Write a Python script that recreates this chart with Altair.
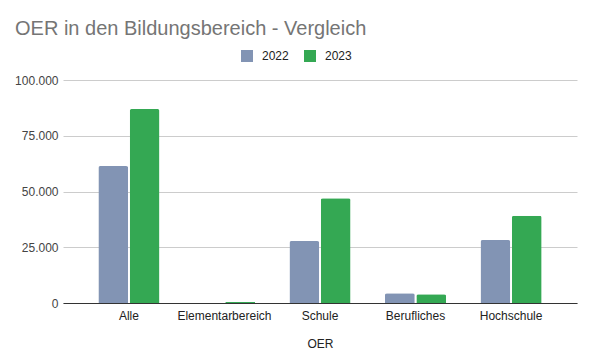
import altair as alt
import pandas as pd

categories = ["Alle", "Elementarbereich", "Schule", "Berufliches", "Hochschule"]
values_2022 = [61400, 0, 27800, 4400, 28200]
values_2023 = [87000, 500, 47000, 3900, 39100]
years = ["2022", "2023"]
colors = ["#8294b4", "#34a853"]

rows = []
for c, a, b in zip(categories, values_2022, values_2023):
    rows.append({"Bereich": c, "Jahr": "2022", "Wert": a})
    rows.append({"Bereich": c, "Jahr": "2023", "Wert": b})
df = pd.DataFrame(rows)

FONT = "Liberation Sans"

chart = alt.Chart(df).mark_bar(
    cornerRadiusTopLeft=2, cornerRadiusTopRight=2
).encode(
    x=alt.X("Bereich:N", sort=categories, title="OER",
            scale=alt.Scale(paddingInner=0.36, paddingOuter=0.37),
            axis=alt.Axis(labelAngle=0, ticks=False, domain=True, domainColor="#333333",
                          labelColor="#222222", labelFontSize=12, labelFont=FONT,
                          labelPadding=7, titleFont=FONT, titleFontSize=12,
                          titleFontWeight="normal", titleColor="#222222", titlePadding=17)),
    xOffset=alt.XOffset("Jahr:N", sort=years, scale=alt.Scale(paddingInner=0.05)),
    y=alt.Y("Wert:Q", title=None,
            scale=alt.Scale(domain=[0, 100000]),
            axis=alt.Axis(values=[0, 25000, 50000, 75000, 100000], domain=False, ticks=False,
                          labelExpr="replace(format(datum.value, ','), ',', '.')",
                          labelColor="#444444", labelFontSize=12, labelFont=FONT,
                          labelPadding=5, gridColor="#cccccc")),
    color=alt.Color("Jahr:N", sort=years,
                    scale=alt.Scale(domain=years, range=colors),
                    legend=alt.Legend(title=None, orient="none", direction="horizontal",
                                      legendX=178, legendY=-30, symbolType="square",
                                      symbolSize=144, symbolStrokeWidth=0, symbolOpacity=1,
                                      labelFontSize=12, labelFont=FONT, labelColor="#222222",
                                      labelOffset=9, columnPadding=15)),
).properties(
    width=514,
    height=223,
    padding={"left": 55, "top": 72, "right": 9, "bottom": 56},
    autosize=alt.AutoSizeParams(type="none"),
    title=alt.TitleParams("OER in den Bildungsbereich - Vergleich", anchor="start",
                          frame="group", dx=-48, font=FONT, fontSize=20,
                          fontWeight="normal", color="#757575", offset=11),
).configure_view(stroke=None)

chart.save("out.html", embed_options={"renderer": "svg", "actions": False})
